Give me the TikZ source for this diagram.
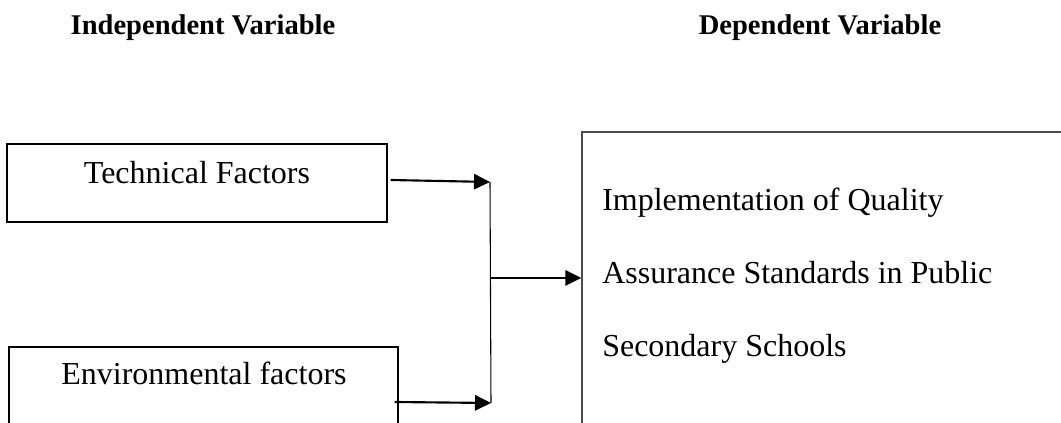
\documentclass[tikz,border=0pt]{standalone}
\usepackage{fontspec}
\setmainfont{Liberation Serif}
\usetikzlibrary{arrows.meta}

\begin{document}
\begin{tikzpicture}[x=0.75pt, y=-0.75pt,
    box/.style={draw, line width=1pt, rectangle, inner sep=0pt},
    txt/.style={inner sep=0pt, font=\fontsize{24}{28}\selectfont},
    head/.style={anchor=base, inner sep=0pt, font=\fontsize{21.4}{25}\selectfont\bfseries},
    arr/.style={-{Triangle[length=12pt, width=11.5pt]}, line width=1.6pt}]
  \useasboundingbox (0,0) rectangle (1061,423);
  \clip (0,0) rectangle (1061,423);

  % headings
  \node[head] (indep) at (203,35) {Independent Variable};
  \node[head] (dep) at (820,35) {Dependent Variable};

  % boxes
  \node[box, minimum width=285pt, minimum height=58.5pt] (tech) at (197,183) {};
  \node[txt, anchor=base] (techtxt) at (197,184) {Technical Factors};
  \node[box, minimum width=291.75pt, minimum height=69.75pt] (env) at (203.5,393.5) {};
  \node[txt, anchor=base] (envtxt) at (204,385) {Environmental factors};
  \node[box, draw=black!70, minimum width=388.5pt, minimum height=253.5pt] (qbox) at (841,301) {};
  \foreach \t [count=\i] in {Implementation of Quality, Assurance Standards in Public, Secondary Schools}{
    \node[txt, anchor=base west] (qa\i) at (602,211+73*\i-73) {\t};
  }

  % connectors
  \coordinate (jtop) at (490,182);
  \coordinate (jmid) at (491,278);
  \coordinate (jbot) at (491,403);
  \draw[line width=0.8pt] (jtop) -- (jbot);
  \draw[arr] ([shift={(3,-3)}]tech.east) -- (jtop);
  \draw[arr] ([shift={(-4,8.5)}]env.east) -- (jbot);
  \draw[arr] (jmid) -- (qbox.west |- jmid);
\end{tikzpicture}
\end{document}
